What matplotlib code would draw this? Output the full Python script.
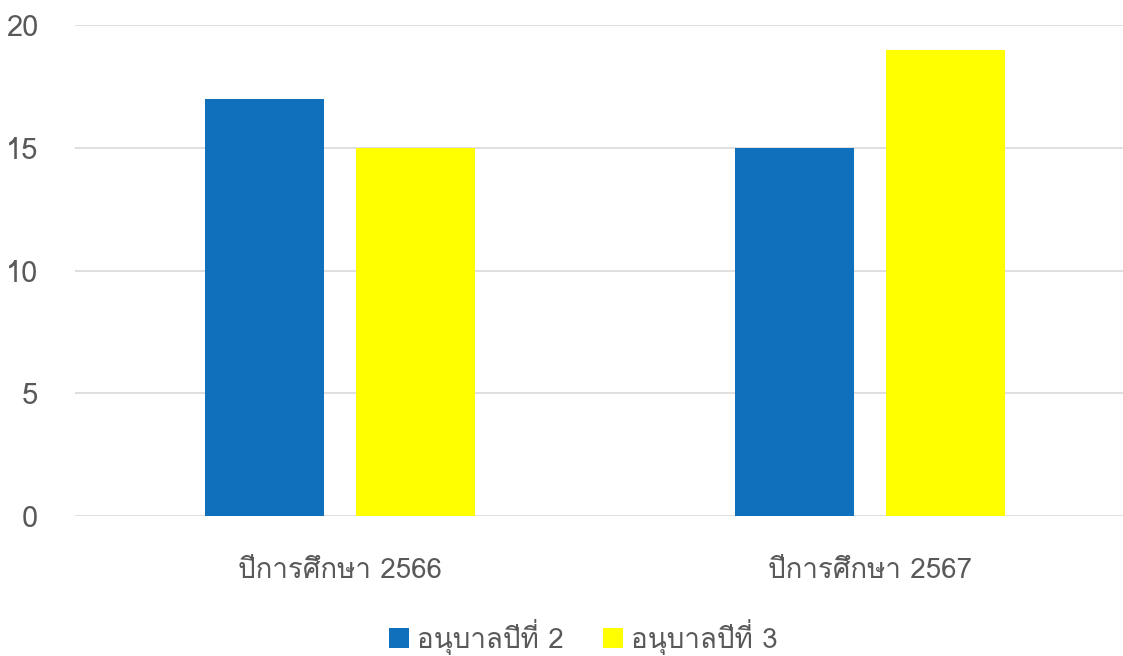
import matplotlib
matplotlib.use("Agg")
import matplotlib.pyplot as plt
from matplotlib import font_manager
from matplotlib.ft2font import FT2Font
from matplotlib.patches import Patch

categories = ["ปีการศึกษา 2566", "ปีการศึกษา 2567"]
series_names = ["อนุบาลปีที่ 2", "อนุบาลปีที่ 3"]
series_values = [[17, 15], [15, 19]]
colors = ["#1070BB", "#FFFF00"]
yticks = [0, 5, 10, 15, 20]

# find an installed font with Thai glyphs
thai_family = None
for fe in font_manager.fontManager.ttflist:
    try:
        f = FT2Font(fe.fname)
        if f.get_char_index(ord("ก")) and f.get_char_index(ord("2")):
            thai_family = fe.name
            break
    except Exception:
        pass
fams = ([thai_family] if thai_family else []) + ["DejaVu Sans"]
plt.rcParams["font.family"] = fams

W, H = 1123, 656
fig = plt.figure(figsize=(W / 100, H / 100), dpi=100)
ax = fig.add_axes([75 / W, (H - 516) / H, (1123 - 75) / W, (516 - 25) / H])

x = list(range(len(categories)))
bw = 0.2245
off = [-0.1425, 0.1425]
for i, vals in enumerate(series_values):
    ax.bar([xi + off[i] for xi in x], vals, width=bw, color=colors[i], zorder=3)

ax.set_xlim(-0.5, 1.477)
ax.set_ylim(0, 20)
ax.set_yticks(yticks)
ax.grid(axis="y", color="#D9D9D9", linewidth=1.2, zorder=0)
for s in ax.spines.values():
    s.set_visible(False)
ax.tick_params(axis="both", length=0, colors="#595959", labelsize=20)
ax.tick_params(axis="y", pad=26.5, labelsize=21)
ax.tick_params(axis="x", pad=30)
ax.set_xticks(x)
ax.set_xticklabels(categories)

handles = [Patch(facecolor=c, edgecolor="none") for c in colors]
fig.legend(handles, series_names, loc="center", bbox_to_anchor=(583 / W, 1 - 637 / H),
           ncol=2, frameon=False, fontsize=20, labelcolor="#595959",
           handlelength=0.72, handleheight=0.72, handletextpad=0.3, columnspacing=1.4,
           borderpad=0.1)

fig.savefig("out.png", dpi=100)
